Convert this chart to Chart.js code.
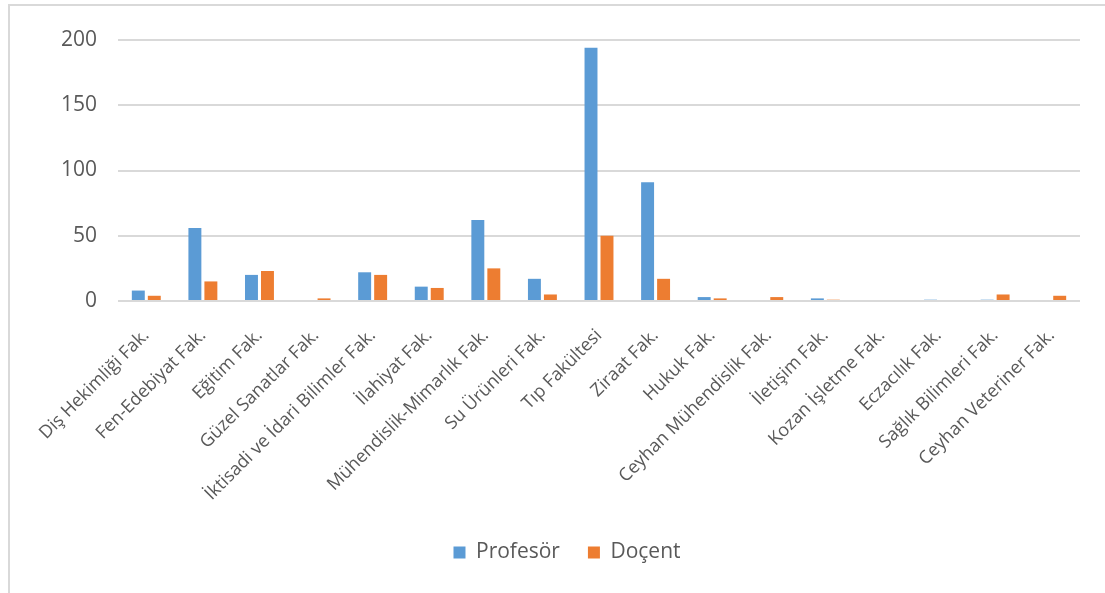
<!DOCTYPE html>
<html>
<head>
<meta charset="utf-8">
<script src="https://cdn.jsdelivr.net/npm/chart.js@4"></script>
<style>
  html, body { margin: 0; padding: 0; background: #fff; }
  #frame { position: absolute; left: 8px; top: 4px; width: 1200px; height: 700px;
           border-left: 2px solid #d9d9d9; border-top: 2px solid #d9d9d9; }
  #wrap { position: absolute; left: 0; top: 0; width: 1105px; height: 593px; }
</style>
</head>
<body>
<div id="frame"></div>
<div id="wrap"><canvas id="c" width="1105" height="593"></canvas></div>
<script>
const categories = ["Diş Hekimliği Fak.", "Fen-Edebiyat Fak.", "Eğitim Fak.", "Güzel Sanatlar Fak.",
  "İktisadi ve İdari Bilimler Fak.", "İlahiyat Fak.", "Mühendislik-Mimarlık Fak.", "Su Ürünleri Fak.",
  "Tıp Fakültesi", "Ziraat Fak.", "Hukuk Fak.", "Ceyhan Mühendislik Fak.", "İletişim Fak.",
  "Kozan İşletme Fak.", "Eczacılık Fak.", "Sağlık Bilimleri Fak.", "Ceyhan Veteriner Fak."];
const profesor = [8, 56, 20, 0, 22, 11, 62, 17, 194, 91, 3, 0, 2, 0, 1, 1, 0];
const docent   = [4, 15, 23, 2, 20, 10, 25, 5, 50, 17, 2, 3, 1, 0, 0, 5, 4];
const yTicks = [0, 50, 100, 150, 200];

const textColor = '#595959';
const fontFamily = '"Open Sans", sans-serif';

new Chart(document.getElementById('c'), {
  type: 'bar',
  data: {
    labels: categories,
    datasets: [
      { label: 'Profesör', data: profesor, backgroundColor: '#5B9BD5',
        barPercentage: 0.81, categoryPercentage: 0.565 },
      { label: 'Doçent', data: docent, backgroundColor: '#ED7D31',
        barPercentage: 0.81, categoryPercentage: 0.565 }
    ]
  },
  options: {
    responsive: false,
    animation: false,
    layout: { padding: { left: 54, right: 25, top: 40, bottom: 20 } },
    plugins: {
      tooltip: { enabled: false },
      legend: {
        position: 'bottom',
        labels: {
          color: textColor,
          font: { family: fontFamily, size: 21 },
          boxWidth: 12, boxHeight: 12, padding: 28
        }
      }
    },
    scales: {
      x: {
        grid: { display: false },
        border: { display: false },
        ticks: {
          color: textColor,
          font: { family: fontFamily, size: 18 },
          minRotation: 45, maxRotation: 45, autoSkip: false, padding: 16
        },
        afterFit: (s) => { s.height = 213; }
      },
      y: {
        min: 0, max: 200,
        afterBuildTicks: (s) => { s.ticks = yTicks.map(v => ({ value: v })); },
        grid: { color: '#d9d9d9', lineWidth: 2, drawTicks: false },
        border: { display: false },
        ticks: { color: textColor, font: { family: fontFamily, size: 21 }, padding: 21 },
        afterFit: (s) => { s.width = 64; }
      }
    }
  }
});
</script>
</body>
</html>
